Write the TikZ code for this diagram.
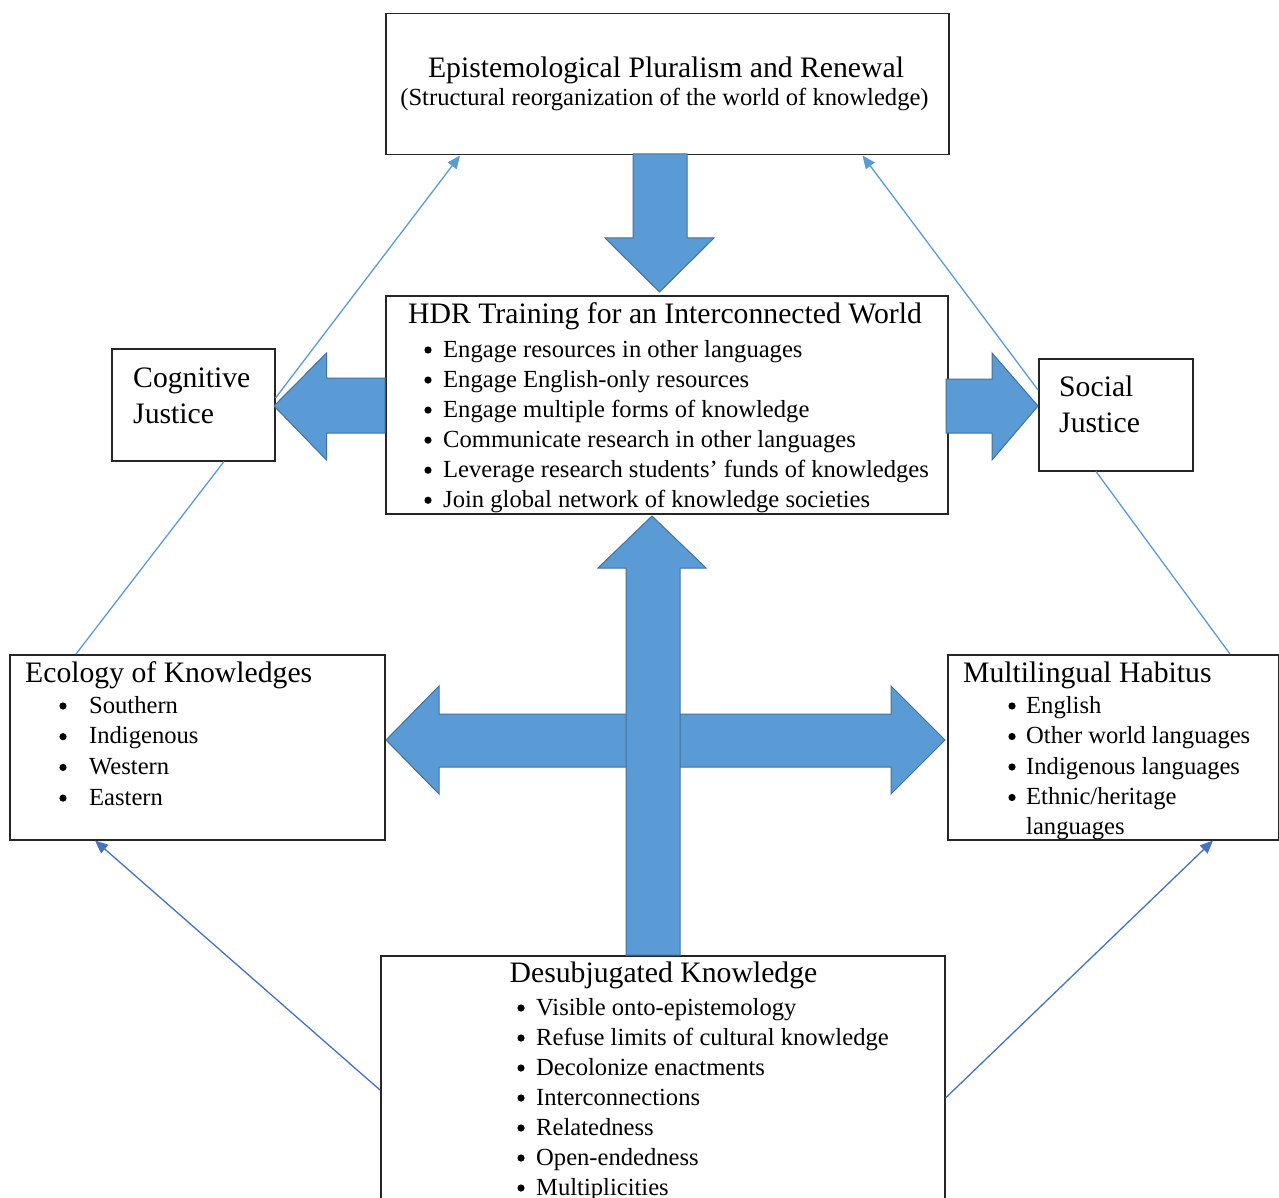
\documentclass[tikz,border=0pt]{standalone}
\usepackage{fontspec}
\setmainfont{Liberation Serif}
\usetikzlibrary{arrows.meta,calc}
\definecolor{blockfill}{HTML}{5B9BD5}
\definecolor{blockline}{HTML}{41719C}
\definecolor{thinlight}{HTML}{5B9BD5}
\definecolor{thindark}{HTML}{4472C4}
\newcommand{\headfont}{\fontsize{29.7}{34}\selectfont}
\newcommand{\bodyfont}{\fontsize{24.6}{30}\selectfont}
\tikzset{
  box/.style={draw=black!85, line width=1.5pt, fill=white, inner sep=0pt, anchor=north west},
  head/.style={font=\headfont, inner sep=0pt},
  body/.style={font=\bodyfont, inner sep=0pt, anchor=base west},
  dot/.style={fill=black},
  blockarrow/.style={fill=blockfill, draw=blockline, line width=1pt, line join=miter},
  linklight/.style={draw=thinlight, line width=1.3pt},
  linkdark/.style={draw=thindark, line width=1.3pt},
  tipped/.style={-{Triangle[length=13pt,width=11pt]}}
}
\begin{document}
\begin{tikzpicture}[x=1pt,y=-1pt]
\useasboundingbox (0,0) rectangle (1279,1198);

% boxes
\node[box, minimum width=563pt, minimum height=141pt] (epi) at (385,13) {};
\node[box, minimum width=562pt, minimum height=218pt] (hdr) at (385,295) {};
\node[box, minimum width=163pt, minimum height=112pt] (cog) at (111,348) {};
\node[box, minimum width=154pt, minimum height=112pt] (soc) at (1038,358) {};
\node[box, minimum width=375pt, minimum height=185pt] (eco) at (9,654) {};
\node[box, minimum width=331pt, minimum height=185pt] (mul) at (947,654) {};
\node[box, minimum width=564pt, minimum height=260pt] (des) at (380,955) {};

% block arrows
\draw[blockarrow] (633,154) -- (687,154) -- (687,238) -- (714,238) -- (659.5,292) -- (605,238) -- (633,238) -- cycle;
\draw[blockarrow] (385,378) -- (326.5,378) -- (326.5,353) -- (274,406) -- (326.5,460) -- (326.5,433) -- (385,433) -- cycle;
\draw[blockarrow] (946,379) -- (992,379) -- (992,353) -- (1038,406) -- (992,460) -- (992,433) -- (946,433) -- cycle;
\draw[blockarrow] (439,714) -- (891,714) -- (891,686) -- (945,740) -- (891,794) -- (891,767) -- (439,767) -- (439,794) -- (386,740) -- (439,686) -- cycle;
\draw[blockarrow] (626,955) -- (626,568) -- (598,568) -- (652,516) -- (706,568) -- (680,568) -- (680,955) -- cycle;

% thin connectors
\draw[linklight, tipped] ($(cog.north east)+(0,50)$) -- ($(epi.south west)+(75,0)$);
\draw[linklight, tipped] ($(soc.north west)+(0,32)$) -- ($(epi.south east)+(-87,0)$);
\draw[linklight] ($(eco.north west)+(67,0)$) -- ($(cog.south west)+(113,0)$);
\draw[linklight] ($(mul.north west)+(283,0)$) -- ($(soc.south west)+(58,0)$);
\draw[linkdark, tipped] ($(des.north west)+(0,135)$) -- ($(eco.south west)+(86,0)$);
\draw[linkdark, tipped] ($(des.north east)+(0,143)$) -- ($(mul.south west)+(266,0)$);

% texts: top box
\node[head, anchor=base] (epit) at (666,78) {Epistemological Pluralism and Renewal};
\node[font=\bodyfont, inner sep=0pt, anchor=base] (epis) at (664.5,106) {(Structural reorganization of the world of knowledge)};

% HDR box
\node[head, anchor=base west] (hdrt) at (408,323) {HDR Training for an Interconnected World};
\foreach \t [count=\i from 0] in {Engage resources in other languages, Engage English-only resources, Engage multiple forms of knowledge, Communicate research in other languages, Leverage research students’ funds of knowledges, Join global network of knowledge societies}{
  \node[body] (hdr-\i) at (443,357+30.05*\i) {\t};
  \fill[dot] (428,350+30.05*\i) circle (3.6);
}

% Cognitive / Social
\node[head, anchor=base west] (cog1) at (133,387) {Cognitive};
\node[head, anchor=base west] (cog2) at (133,423) {Justice};
\node[head, anchor=base west] (soc1) at (1059,396) {Social};
\node[head, anchor=base west] (soc2) at (1059,432) {Justice};

% Ecology
\node[head, anchor=base west] (ecot) at (25,682) {Ecology of Knowledges};
\foreach \t [count=\i from 0] in {Southern, Indigenous, Western, Eastern}{
  \node[body] (eco-\i) at (89,713+30.7*\i) {\t};
  \fill[dot] (63,706+30.7*\i) circle (3.6);
}

% Multilingual
\node[head, anchor=base west] (mult) at (963,682) {Multilingual Habitus};
\foreach \t [count=\i from 0] in {English, Other world languages, Indigenous languages, Ethnic/heritage}{
  \node[body] (mul-\i) at (1026,713+30.5*\i) {\t};
  \fill[dot] (1012,706+30.5*\i) circle (3.6);
}
\node[body] (mul-4) at (1026,834) {languages};

% Desubjugated
\node[head, anchor=base west] (dest) at (509.5,982) {Desubjugated Knowledge};
\foreach \t [count=\i from 0] in {Visible onto-epistemology, Refuse limits of cultural knowledge, Decolonize enactments, Interconnections, Relatedness, Open-endedness, Multiplicities}{
  \node[body] (des-\i) at (536,1015+30*\i) {\t};
  \fill[dot] (521,1008+30*\i) circle (3.6);
}
\end{tikzpicture}
\end{document}
